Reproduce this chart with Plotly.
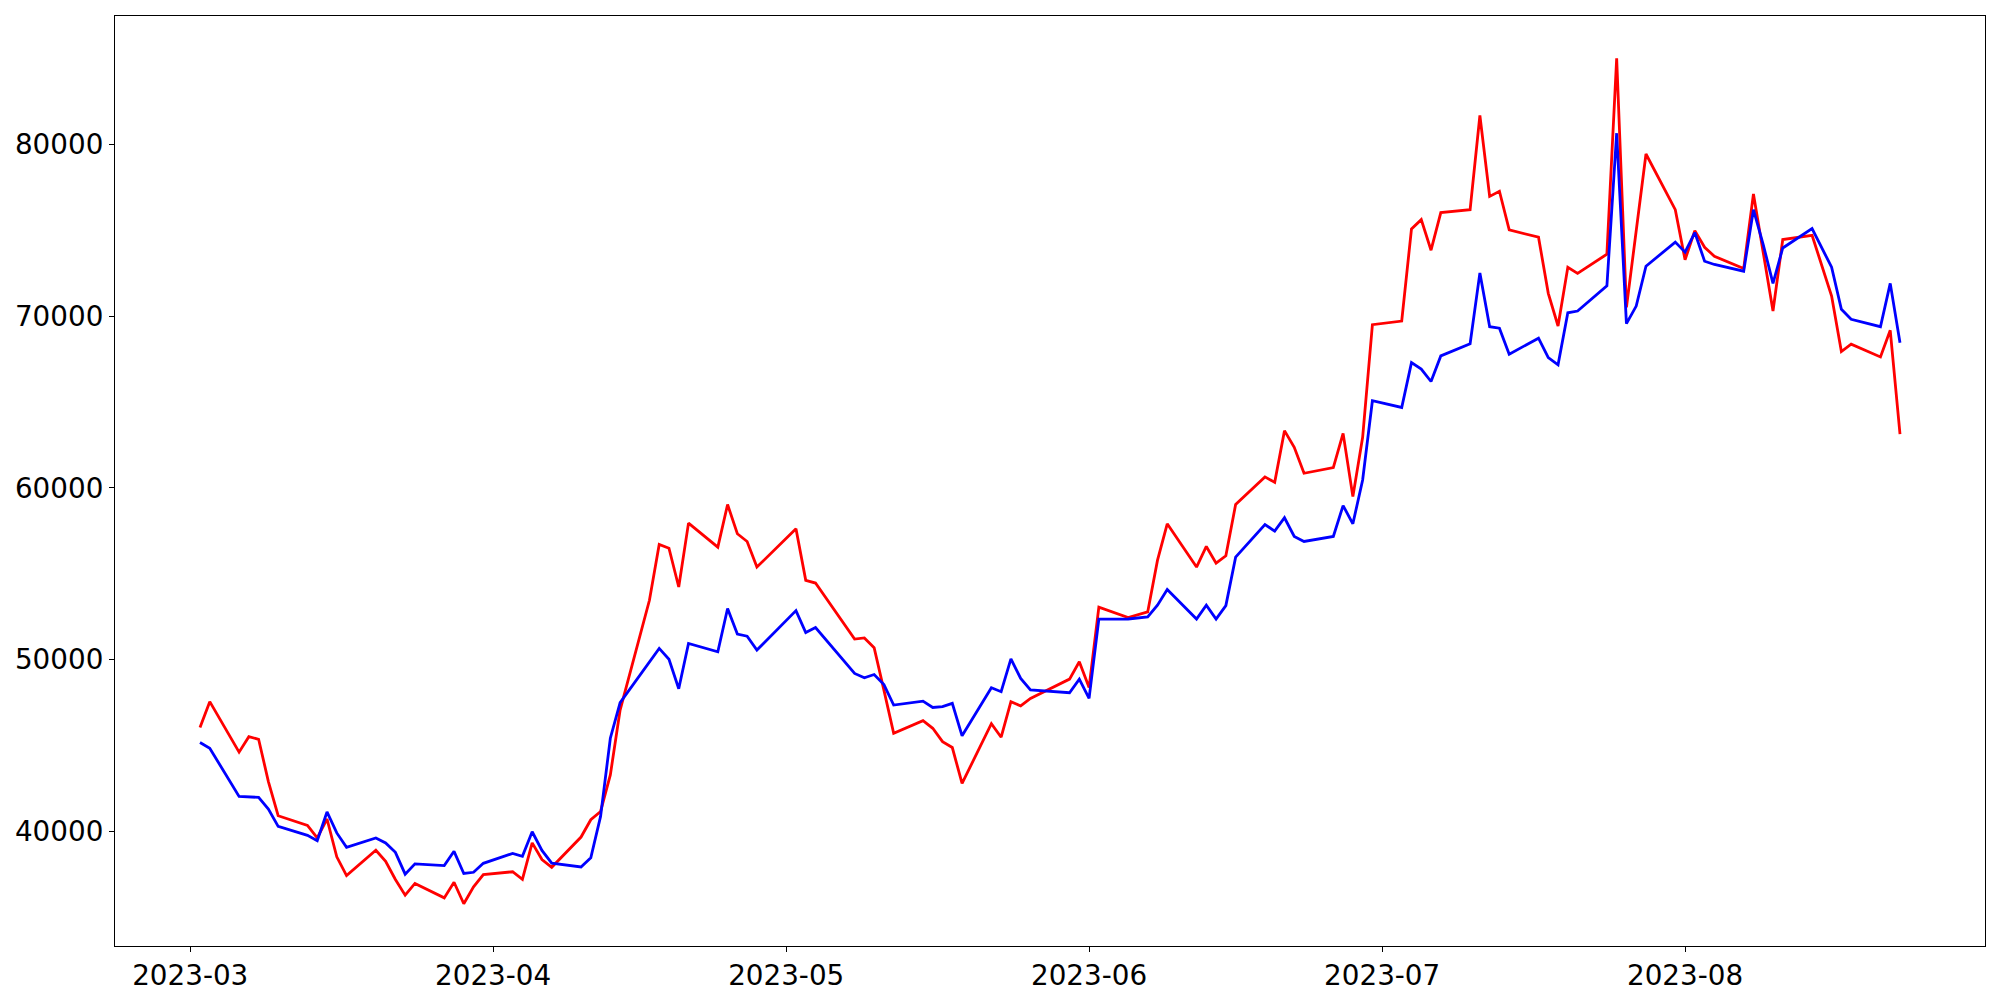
import plotly.graph_objects as go
import datetime as dt

dates = (
    ["2023-03-%02d" % d for d in [2, 3, 6, 7, 8, 9, 10, 13, 14, 15, 16, 17, 20, 21, 22, 23, 24, 27, 28, 29, 30, 31]]
    + ["2023-04-%02d" % d for d in [3, 4, 5, 6, 7, 10, 11, 12, 13, 14, 17, 18, 19, 20, 21, 24, 25, 26, 27, 28]]
    + ["2023-05-%02d" % d for d in [2, 3, 4, 8, 9, 10, 11, 12, 15, 16, 17, 18, 19, 22, 23, 24, 25, 26, 30, 31]]
    + ["2023-06-%02d" % d for d in [1, 2, 5, 7, 8, 9, 12, 13, 14, 15, 16, 19, 20, 21, 22, 23, 26, 27, 28, 29, 30]]
    + ["2023-07-%02d" % d for d in [3, 4, 5, 6, 7, 10, 11, 12, 13, 14, 17, 18, 19, 20, 21, 24, 25, 26, 27, 28, 31]]
    + ["2023-08-%02d" % d for d in [1, 2, 3, 4, 7, 8, 9, 10, 11, 14, 16, 17, 18, 21, 22, 23]]
)

red_values = [
    46050, 47560, 44620, 45520, 45370, 42910, 40920, 40360, 39630, 40730, 38530,
    37440, 38910, 38270, 37210, 36300, 36980, 36140, 37050, 35800, 36780, 37500,
    37660, 37220, 39340, 38370, 37920, 39680, 40690, 41170, 43300, 47070,
    53460, 56710, 56490, 54230, 57950, 56550, 59030, 57330, 56880, 55390,
    57620, 54620, 54460, 51200, 51270, 50700, 48230, 45720, 46450, 46010,
    45230, 44890, 42800, 46280, 45490, 47560, 47310, 47750, 48870, 49880,
    48390, 53060, 52450, 52780, 55780, 57910, 55390, 56590, 55620, 56050, 59030,
    60640, 60320, 63330, 62360, 60850, 61180, 63170, 59490, 62940, 69500,
    69710, 75070, 75610, 73830, 76020, 76190, 81670, 76960, 77260, 75010, 74590,
    71320, 69420, 72840, 72480, 73600, 85000, 70500, 74900, 79430, 76190,
    73270, 74970, 74000, 73480, 72760, 77100, 73720, 70290, 74450, 74700,
    71160, 67930, 68360, 67620, 69170, 63130,
]

blue_values = [
    45180, 44850, 42040, 42010, 41990, 41310, 40300, 39780, 39470, 41140, 39920,
    39080, 39630, 39340, 38790, 37520, 38120, 38020, 38850, 37560, 37630, 38150,
    38730, 38560, 39990, 38900, 38160, 37940, 38470, 40880, 45430, 47500,
    49900, 50660, 50030, 48310, 50950, 50460, 52980, 51490, 51370, 50560,
    52860, 51580, 51870, 49200, 48950, 49140, 48550, 47360, 47590, 47220,
    47270, 47460, 45570, 48370, 48140, 50050, 48910, 48240, 48080, 48870,
    47750, 52360, 52370, 52490, 53170, 54080, 52370, 53170, 52370, 53150, 55970,
    57870, 57480, 58260, 57170, 56880, 57170, 58970, 57910, 60460, 65070,
    64680, 67290, 66910, 66190, 67680, 68390, 72510, 69380, 69290, 67780, 68710,
    67580, 67160, 70190, 70290, 71760, 80640, 69560, 70580, 72900, 74300,
    73720, 74860, 73190, 73000, 72610, 76190, 74160, 71900, 73960, 75090,
    72840, 70390, 69810, 69380, 71900, 68450,
]

y_tick_values = [40000, 50000, 60000, 70000, 80000]

assert len(dates) == len(red_values) == len(blue_values)

fig = go.Figure()
fig.add_trace(go.Scatter(x=dates, y=red_values, mode="lines",
                         line=dict(color="#ff0000", width=2.8), showlegend=False))
fig.add_trace(go.Scatter(x=dates, y=blue_values, mode="lines",
                         line=dict(color="#0000ff", width=2.8), showlegend=False))

# matplotlib-like 5% margins
d0 = dt.datetime.fromisoformat(dates[0])
d1 = dt.datetime.fromisoformat(dates[-1])
pad = (d1 - d0) * 0.05
xr = [(d0 - pad).isoformat(), (d1 + pad).isoformat()]
allv = red_values + blue_values
lo, hi = min(allv), max(allv)
ypad = (hi - lo) * 0.05
yr = [lo - ypad, hi + ypad]

font = dict(family="DejaVu Sans", size=27.8, color="black")
fig.update_layout(
    width=2000, height=1000,
    margin=dict(l=105, r=23, t=7, b=62),
    paper_bgcolor="white", plot_bgcolor="white",
    font=font,
)
fig.update_xaxes(
    type="date", range=xr, tick0="2023-03-01", dtick="M1", tickformat="%Y-%m",
    showgrid=False, zeroline=False,
    showline=True, linecolor="black", linewidth=1.1, mirror=True,
    ticks="outside", ticklen=5, tickwidth=1.1, tickcolor="black",
    tickfont=font,
)
fig.update_yaxes(
    range=yr, tickmode="array", tickvals=y_tick_values,
    ticktext=[str(v) for v in y_tick_values],
    showgrid=False, zeroline=False,
    showline=True, linecolor="black", linewidth=1.1, mirror=True,
    ticks="outside", ticklen=5, tickwidth=1.1, tickcolor="black",
    tickfont=font,
)

fig.write_html("out.html")
